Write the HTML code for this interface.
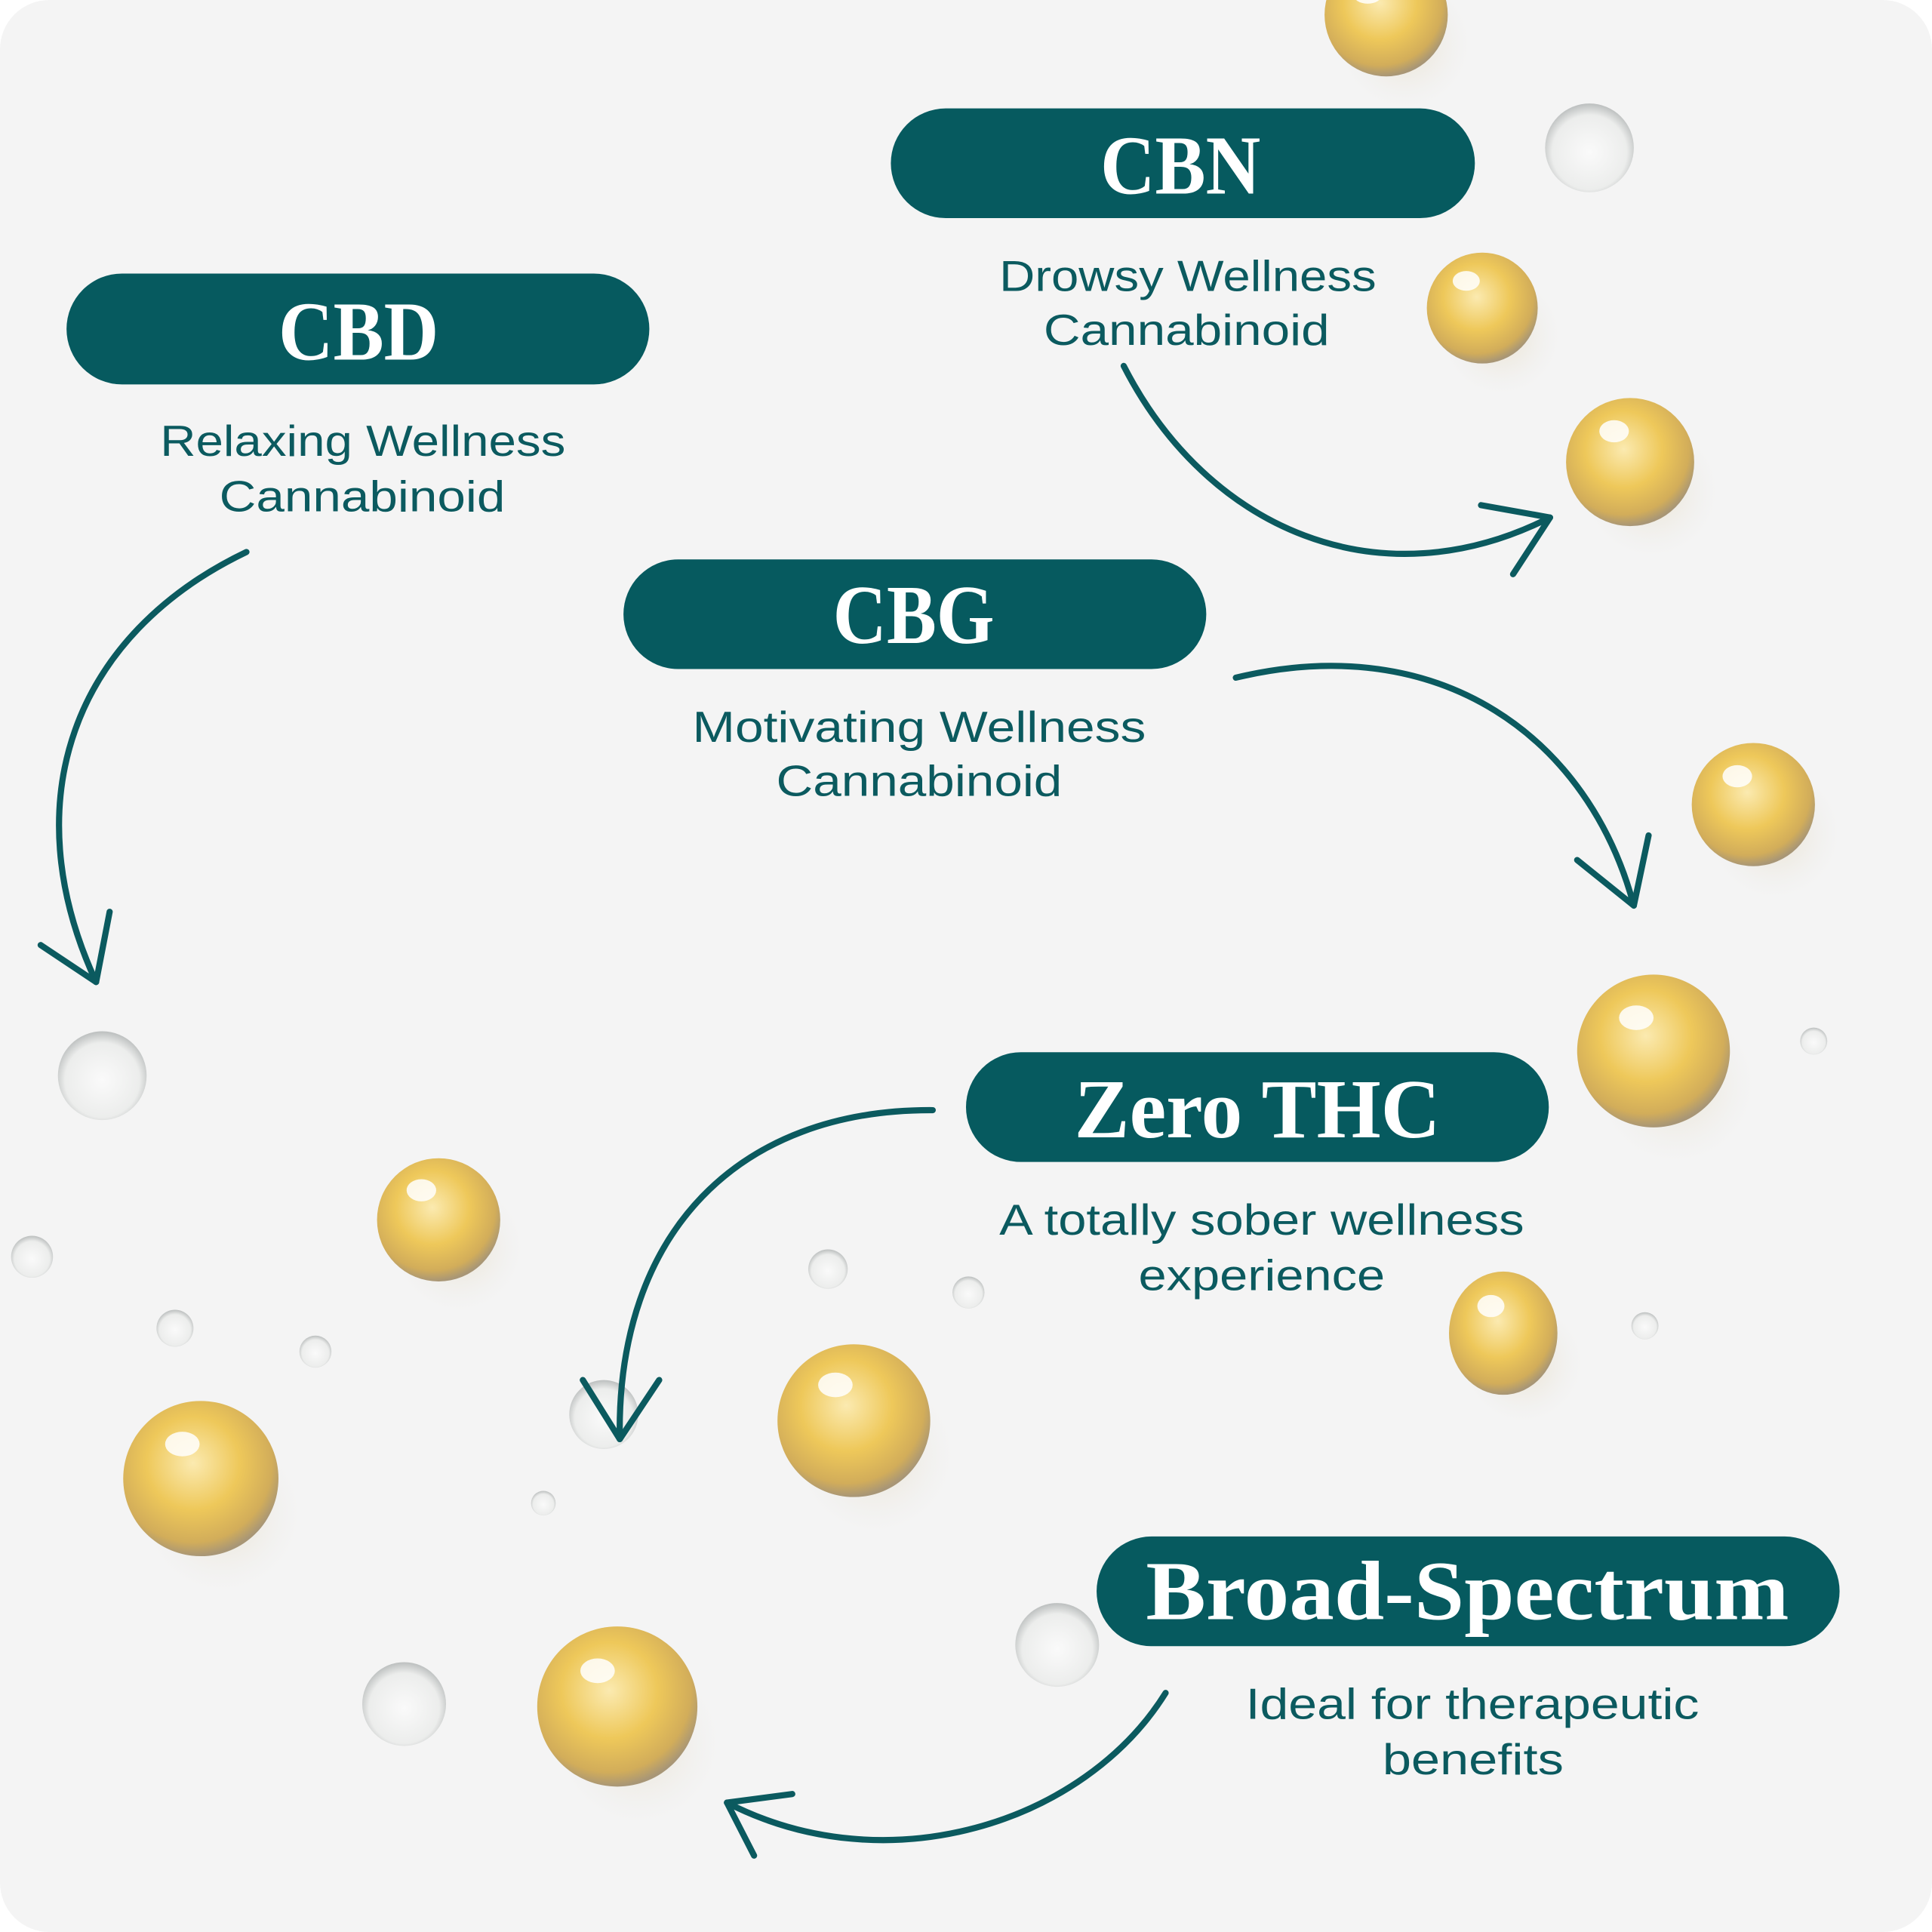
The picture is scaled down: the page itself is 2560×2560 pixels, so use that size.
<!DOCTYPE html>
<html><head><meta charset="utf-8"><style>
html,body{margin:0;padding:0;background:#fff}
svg{display:block}
</style></head><body>
<svg width="2560" height="2560" viewBox="0 0 1568 1568" xmlns="http://www.w3.org/2000/svg">
<defs>
<radialGradient id="g" cx="45%" cy="40%" r="60%">
<stop offset="0" stop-color="#fbeab0"/><stop offset="0.5" stop-color="#eec85a"/><stop offset="0.85" stop-color="#d2ad5a"/><stop offset="1" stop-color="#a89676"/>
</radialGradient>
<radialGradient id="c" cx="50%" cy="55%" r="60%">
<stop offset="0" stop-color="#fafafa"/><stop offset="0.7" stop-color="#ecedec"/><stop offset="1" stop-color="#a9adad"/>
</radialGradient>
<radialGradient id="sh" cx="50%" cy="50%" r="50%">
<stop offset="0" stop-color="#e8dcc0" stop-opacity="0.8"/><stop offset="1" stop-color="#eeeeee" stop-opacity="0"/>
</radialGradient>
</defs>
<rect x="0" y="0" width="1568" height="1568" rx="40" fill="#f4f4f4"/>
<g id="drops">
<g fill="url(#sh)">
<circle cx="1140" cy="35" r="55"/><circle cx="1218" cy="272" r="50"/><circle cx="1340" cy="398" r="56"/><circle cx="1440" cy="676" r="55"/><circle cx="1360" cy="880" r="66"/><circle cx="1236" cy="1106" r="50"/><circle cx="372" cy="1012" r="54"/><circle cx="710" cy="1180" r="66"/><circle cx="180" cy="1228" r="66"/><circle cx="518" cy="1414" r="68"/>
</g>
<g fill="url(#g)">
<circle cx="1125" cy="12" r="50"/><circle cx="1203" cy="250" r="45"/><circle cx="1323" cy="375" r="52"/><circle cx="1423" cy="653" r="50"/><circle cx="1342" cy="853" r="62"/><ellipse cx="1220" cy="1082" rx="44" ry="50"/><circle cx="356" cy="990" r="50"/><circle cx="693" cy="1153" r="62"/><circle cx="163" cy="1200" r="63"/><circle cx="501" cy="1385" r="65"/>
</g>
<g fill="url(#c)">
<circle cx="1290" cy="120" r="36"/><circle cx="83" cy="873" r="36"/><circle cx="490" cy="1148" r="28"/><circle cx="858" cy="1335" r="34"/><circle cx="328" cy="1383" r="34"/><circle cx="26" cy="1020" r="17"/><circle cx="142" cy="1078" r="15"/><circle cx="256" cy="1097" r="13"/><circle cx="672" cy="1030" r="16"/><circle cx="786" cy="1049" r="13"/><circle cx="441" cy="1220" r="10"/><circle cx="1472" cy="845" r="11"/><circle cx="1335" cy="1076" r="11"/>
</g>
<g fill="#fff" opacity="0.85">
<ellipse cx="1110" cy="-5" rx="12" ry="8"/><ellipse cx="1190" cy="228" rx="11" ry="8"/><ellipse cx="1310" cy="350" rx="12" ry="9"/><ellipse cx="1410" cy="630" rx="12" ry="9"/><ellipse cx="1328" cy="826" rx="14" ry="10"/><ellipse cx="1210" cy="1060" rx="11" ry="9"/><ellipse cx="342" cy="966" rx="12" ry="9"/><ellipse cx="678" cy="1124" rx="14" ry="10"/><ellipse cx="148" cy="1172" rx="14" ry="10"/><ellipse cx="485" cy="1356" rx="14" ry="10"/>
</g>
</g>
<g fill="#065a5f">
<rect x="723" y="88" width="474" height="89" rx="44.5"/>
<rect x="54" y="222" width="473" height="90" rx="45"/>
<rect x="506" y="454" width="473" height="89" rx="44.5"/>
<rect x="784" y="854" width="473" height="89" rx="44.5"/>
<rect x="890" y="1247" width="603" height="89" rx="44.5"/>
</g>
<g fill="#fff" font-family="Liberation Serif, serif" font-weight="bold" font-size="68" lengthAdjust="spacingAndGlyphs">
<text x="893" y="157" textLength="130" lengthAdjust="spacingAndGlyphs">CBN</text>
<text x="226" y="292" textLength="130" lengthAdjust="spacingAndGlyphs">CBD</text>
<text x="676" y="522" textLength="131" lengthAdjust="spacingAndGlyphs">CBG</text>
<text x="872" y="923" textLength="297" lengthAdjust="spacingAndGlyphs">Zero THC</text>
<text x="930" y="1314" textLength="522" lengthAdjust="spacingAndGlyphs">Broad-Spectrum</text>
</g>
<g fill="#0b5a5f" font-family="Liberation Sans, sans-serif" font-size="35">
<text x="811" y="236" textLength="306" lengthAdjust="spacingAndGlyphs">Drowsy Wellness</text><text x="847" y="280" textLength="232" lengthAdjust="spacingAndGlyphs">Cannabinoid</text>
<text x="130" y="370" textLength="329" lengthAdjust="spacingAndGlyphs">Relaxing Wellness</text><text x="178" y="415" textLength="232" lengthAdjust="spacingAndGlyphs">Cannabinoid</text>
<text x="562" y="602" textLength="368" lengthAdjust="spacingAndGlyphs">Motivating Wellness</text><text x="630" y="646" textLength="232" lengthAdjust="spacingAndGlyphs">Cannabinoid</text>
<text x="811" y="1002" textLength="426" lengthAdjust="spacingAndGlyphs">A totally sober wellness</text><text x="924" y="1047" textLength="200" lengthAdjust="spacingAndGlyphs">experience</text>
<text x="1011" y="1395" textLength="368" lengthAdjust="spacingAndGlyphs">Ideal for therapeutic</text><text x="1122" y="1440" textLength="147" lengthAdjust="spacingAndGlyphs">benefits</text>
</g>
<g fill="none" stroke="#0b5a5f" stroke-width="5" stroke-linecap="round" stroke-linejoin="round">
<path d="M912 297 C980 430 1120 490 1258 420"/>
<path d="M1202 410 L1258 420 L1228 466"/>
<path d="M200 448 C60 515 10 650 78 797"/>
<path d="M33 767 L78 797 L89 740"/>
<path d="M1003 550 C1170 510 1290 600 1326 735"/>
<path d="M1280 698 L1326 735 L1338 678"/>
<path d="M757 901 C600 900 500 1000 503 1168"/>
<path d="M473 1120 L503 1168 L535 1120"/>
<path d="M946 1374 C880 1480 720 1530 590 1463"/>
<path d="M643 1456 L590 1463 L612 1506"/>
</g>
</svg>
</body></html>
